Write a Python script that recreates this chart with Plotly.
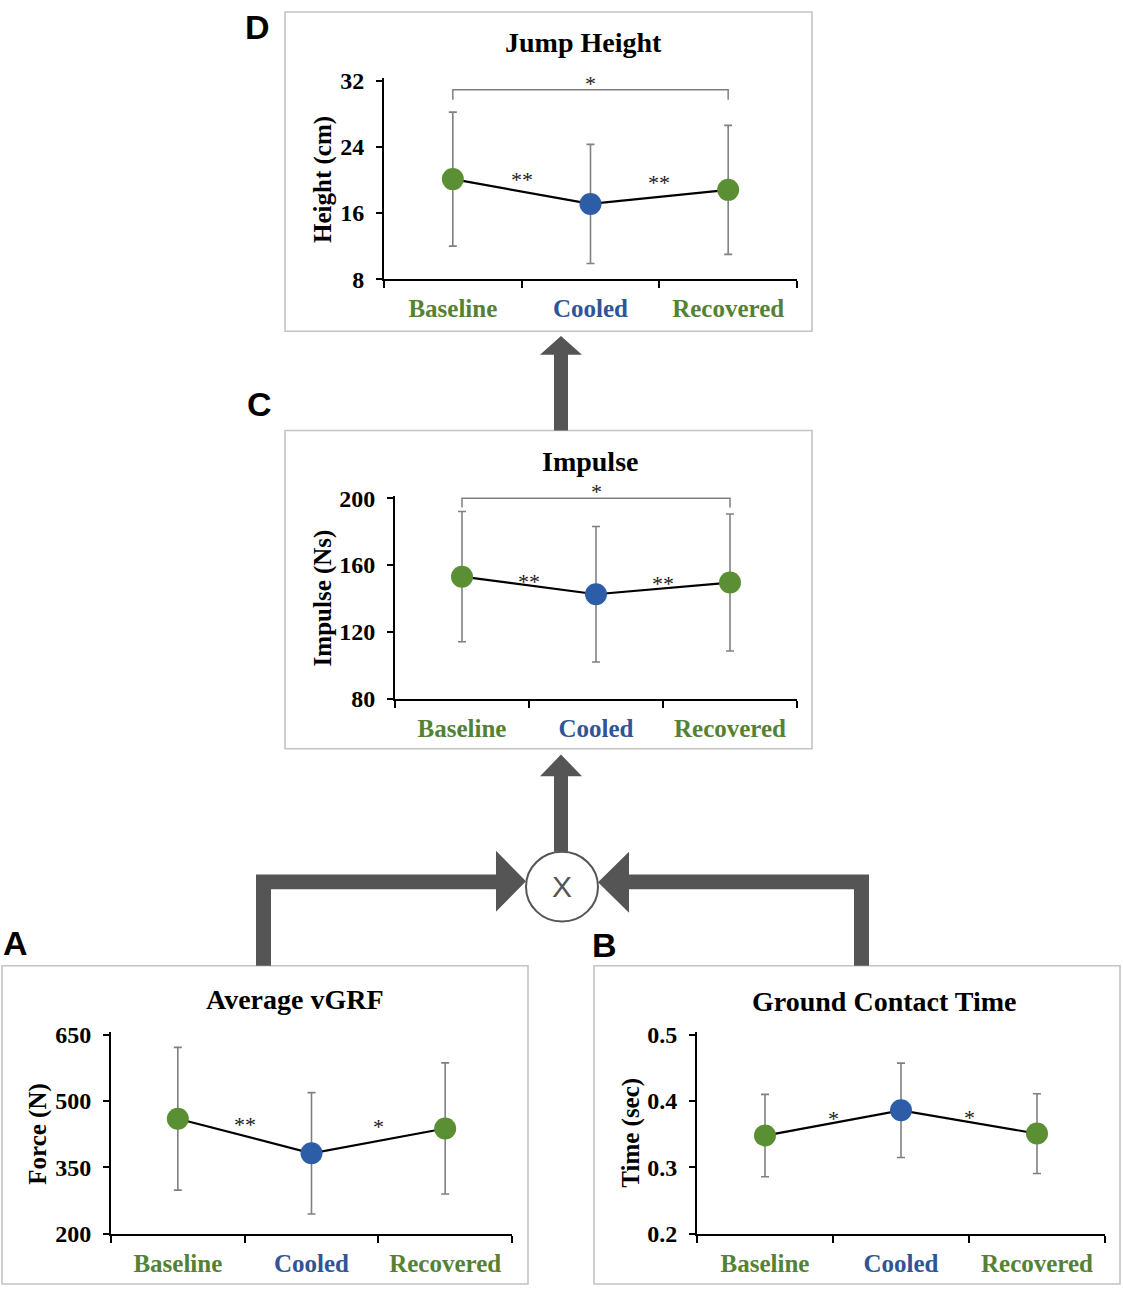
import plotly.graph_objects as go

W, H = 1123, 1300

# ---------------- data ----------------
categories = ["Baseline", "Cooled", "Recovered"]

vgrf_mean = [460, 382, 438]
vgrf_sd = [161, 137, 148]

gct_mean = [0.348, 0.386, 0.351]
gct_sd = [0.062, 0.071, 0.060]

impulse_mean = [153.0, 142.5, 149.5]
impulse_sd = [39.0, 40.6, 41.0]

height_mean = [20.1, 17.1, 18.8]
height_sd = [8.1, 7.2, 7.8]

vgrf_ticks = [200, 350, 500, 650]
gct_ticks = [0.2, 0.3, 0.4, 0.5]
impulse_ticks = [80, 120, 160, 200]
height_ticks = [8, 16, 24, 32]

vgrf_sig = ["**", "*"]
gct_sig = ["*", "*"]
impulse_sig = ["**", "**"]
height_sig = ["**", "**"]
impulse_bracket_sig = "*"
height_bracket_sig = "*"

# ---------------- styles ----------------
GREEN = "#548235"
BLUE = "#2F5597"
MARK_GREEN = "#5B8F33"
MARK_BLUE = "#2E5DA8"
cat_text_colors = [GREEN, BLUE, GREEN]
cat_marker_colors = [MARK_GREEN, MARK_BLUE, MARK_GREEN]
ARROW = "#555555"
BOXLINE = "#C4C4C4"
SERIF = "Liberation Serif"
SANS = "Liberation Sans"


def X(px):
    return px / W


def Y(py):
    return 1 - py / H


panels = [
    dict(letter="D", title="Jump Height", ytitle="Height (cm)",
         mean=height_mean, sd=height_sd, ticks=height_ticks, fmt="d",
         sig=height_sig, sig_y=[20.4, 20.1],
         bracket=height_bracket_sig, bracket_y=(30.9, 29.7),
         box=(285, 2, 812, 327), dom=(384, 797, 72, 274),
         title_pos=(583, 33), ytitle_pos=(323, 173), letter_pos=(257, 17)),
    dict(letter="C", title="Impulse", ytitle="Impulse (Ns)",
         mean=impulse_mean, sd=impulse_sd, ticks=impulse_ticks, fmt="d",
         sig=impulse_sig, sig_y=[152.0, 150.5],
         bracket=impulse_bracket_sig, bracket_y=(200.0, 194.5),
         box=(285, 428, 812, 752), dom=(395, 797, 497, 701),
         title_pos=(590, 460), ytitle_pos=(323, 599), letter_pos=(259, 401)),
    dict(letter="A", title="Average vGRF", ytitle="Force (N)",
         mean=vgrf_mean, sd=vgrf_sd, ticks=vgrf_ticks, fmt="d",
         sig=vgrf_sig, sig_y=[453, 450],
         bracket=None, bracket_y=None,
         box=(2, 973, 528, 1297), dom=(111, 512, 1043, 1246),
         title_pos=(295, 1007), ytitle_pos=(38, 1144), letter_pos=(15, 950)),
    dict(letter="B", title="Ground Contact Time", ytitle="Time (sec)",
         mean=gct_mean, sd=gct_sd, ticks=gct_ticks, fmt=".1f",
         sig=gct_sig, sig_y=[0.3775, 0.3795],
         bracket=None, bracket_y=None,
         box=(594, 973, 1120, 1297), dom=(697, 1105, 1043, 1246),
         title_pos=(884, 1009), ytitle_pos=(631, 1143), letter_pos=(604, 952)),
]

fig = go.Figure()
annotations = []
shapes = []

ticktext = ['<span style="color:%s">%s</span>' % (c, t) for c, t in zip(cat_text_colors, categories)]

for i, p in enumerate(panels, start=1):
    xa = "x" if i == 1 else "x%d" % i
    ya = "y" if i == 1 else "y%d" % i
    xkey = "xaxis" if i == 1 else "xaxis%d" % i
    ykey = "yaxis" if i == 1 else "yaxis%d" % i

    lo, hi = p["ticks"][0], p["ticks"][-1]
    pad = 0.012 * (hi - lo)
    x0, x1, ytop, ybot = p["dom"]
    span_px = ybot - ytop
    top_px = ytop - 0.012 * span_px

    # bracket
    if p["bracket"] is not None:
        bt, bb = p["bracket_y"]
        fig.add_trace(go.Scatter(
            x=[categories[0], categories[0], categories[2], categories[2]],
            y=[bb, bt, bt, bb], mode="lines",
            line=dict(color="#7F7F7F", width=1.5),
            xaxis=xa, yaxis=ya, hoverinfo="skip"))
        annotations.append(dict(x=1, y=bt, xref=xa, yref=ya, text=p["bracket"],
                                showarrow=False, yanchor="bottom", yshift=-8,
                                font=dict(family=SERIF, size=22, color="#1a1a1a")))

    fig.add_trace(go.Scatter(
        x=categories, y=p["mean"], mode="lines+markers",
        line=dict(color="black", width=2.2),
        marker=dict(size=22, color=cat_marker_colors),
        error_y=dict(type="data", array=p["sd"], visible=True,
                     color="#808080", thickness=1.6, width=4),
        xaxis=xa, yaxis=ya))

    for k, s in enumerate(p["sig"]):
        annotations.append(dict(x=k + 0.5, y=p["sig_y"][k], xref=xa, yref=ya,
                                text=s, showarrow=False, yanchor="middle", yshift=-3,
                                font=dict(family=SERIF, size=22, color="#1a1a1a")))

    fig.update_layout({
        xkey: dict(domain=[X(x0), X(x1)], anchor=ya, type="category",
                   categoryorder="array", categoryarray=categories,
                   range=[-0.5, 2.5], tickson="boundaries",
                   tickmode="array", tickvals=categories, ticktext=ticktext,
                   ticks="outside", ticklen=7, tickwidth=2, tickcolor="black",
                   showline=True, linecolor="black", linewidth=2,
                   showgrid=False, zeroline=False, ticklabelstandoff=6,
                   tickfont=dict(family=SERIF, size=25, weight="bold")),
        ykey: dict(domain=[Y(ybot), Y(top_px)], anchor=xa,
                   range=[lo, hi + pad], tickmode="array", tickvals=p["ticks"],
                   tickformat=p["fmt"],
                   ticks="outside", ticklen=6, tickwidth=2, tickcolor="black",
                   showline=True, linecolor="black", linewidth=2,
                   showgrid=False, zeroline=False, ticklabelstandoff=7,
                   tickfont=dict(family=SERIF, size=24, weight="bold", color="black")),
    })

    bx0, by0, bx1, by1 = p["box"]
    shapes.append(dict(type="rect", xref="paper", yref="paper",
                       x0=X(bx0), x1=X(bx1), y0=Y(by1), y1=Y(by0),
                       line=dict(color=BOXLINE, width=1.6), layer="below"))

    tx, ty = p["title_pos"]
    annotations.append(dict(x=X(tx), y=Y(ty), xref="paper", yref="paper",
                            text="<b>%s</b>" % p["title"], showarrow=False,
                            xanchor="center", yanchor="middle",
                            font=dict(family=SERIF, size=28, color="black")))
    yx, yy = p["ytitle_pos"]
    annotations.append(dict(x=X(yx), y=Y(yy), xref="paper", yref="paper",
                            text="<b>%s</b>" % p["ytitle"], showarrow=False,
                            textangle=-90, xanchor="center", yanchor="middle",
                            font=dict(family=SERIF, size=25, color="black")))
    lx, ly = p["letter_pos"]
    annotations.append(dict(x=X(lx), y=Y(ly), xref="paper", yref="paper",
                            text="<b>%s</b>" % p["letter"], showarrow=False,
                            xanchor="center", yanchor="middle",
                            font=dict(family=SANS, size=34, color="black")))


def poly(points):
    return "M " + " L ".join("%.5f,%.5f" % (X(a), Y(b)) for a, b in points) + " Z"


arrow_polys = [
    # C -> D
    [(554, 428), (554, 351), (540, 351), (561, 332), (582, 351), (568, 351), (568, 428)],
    # X -> C
    [(554, 857), (554, 780), (540, 780), (561, 758), (582, 780), (568, 780), (568, 857)],
    # A -> X
    [(256, 973), (256, 880), (496, 880), (496, 856), (526, 887), (496, 918), (496, 895),
     (271, 895), (271, 973)],
    # B -> X
    [(869, 973), (869, 880), (629, 880), (629, 857), (598, 888), (629, 919), (629, 895),
     (854, 895), (854, 973)],
]
for pts in arrow_polys:
    shapes.append(dict(type="path", xref="paper", yref="paper", path=poly(pts),
                       fillcolor=ARROW, line=dict(width=0), layer="above"))

shapes.append(dict(type="circle", xref="paper", yref="paper",
                   x0=X(526), x1=X(598), y0=Y(928), y1=Y(857),
                   fillcolor="white", line=dict(color=ARROW, width=2), layer="above"))
annotations.append(dict(x=X(562), y=Y(892), xref="paper", yref="paper", text="X",
                        showarrow=False, xanchor="center", yanchor="middle",
                        font=dict(family=SANS, size=30, color=ARROW)))

fig.update_layout(
    width=W, height=H, margin=dict(l=0, r=0, t=0, b=0, pad=0),
    paper_bgcolor="white", plot_bgcolor="white", showlegend=False,
    annotations=annotations, shapes=shapes,
)

fig.write_html("out.html", config={"displayModeBar": False},
               post_script="document.body.style.margin='0';document.body.style.overflow='hidden';")
